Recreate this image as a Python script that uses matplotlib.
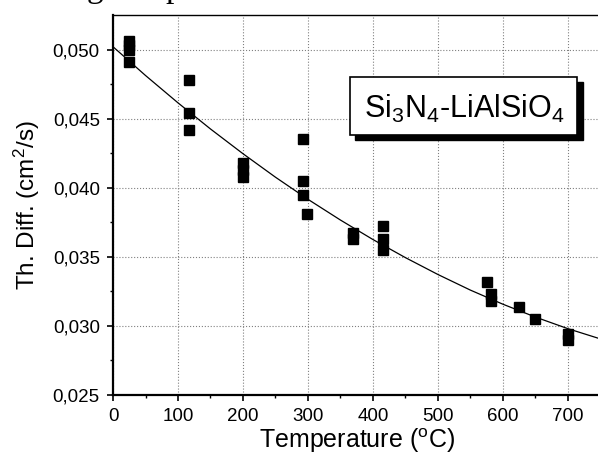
import numpy as np
import matplotlib.pyplot as plt
from matplotlib.patches import Rectangle

plt.rcParams['font.family'] = ['Liberation Sans', 'DejaVu Sans']
plt.rcParams['mathtext.fontset'] = 'custom'
plt.rcParams['mathtext.rm'] = 'Liberation Sans'
plt.rcParams['mathtext.it'] = 'Liberation Sans'

# measured points
temp = [25, 25, 25, 25,
        117, 117, 117,
        200, 200, 200,
        293, 293, 293, 299,
        370, 370,
        415, 415, 415,
        576, 582, 582, 625, 650,
        700, 700]
diff = [0.0506, 0.0503, 0.0500, 0.0491,
        0.0478, 0.0454, 0.0442,
        0.0418, 0.0413, 0.0408,
        0.0435, 0.0405, 0.0395, 0.0381,
        0.0367, 0.0363,
        0.0372, 0.0363, 0.0355,
        0.0332, 0.0323, 0.0318, 0.0314, 0.0305,
        0.0294, 0.0290]

# fitted curve
fit_t = [0, 50, 100, 150, 200, 250, 300, 350, 400, 450, 500, 550, 600, 650, 700, 750]
fit_d = [0.0502, 0.04812, 0.04614, 0.04425, 0.04246, 0.04076, 0.03916, 0.03766,
         0.03625, 0.03494, 0.03372, 0.03259, 0.03157, 0.03064, 0.02980, 0.02906]

xticks = [0, 100, 200, 300, 400, 500, 600, 700]
yticks = [0.025, 0.030, 0.035, 0.040, 0.045, 0.050]

fig = plt.figure(figsize=(5.98, 4.59), dpi=100)
ax = fig.add_axes([0.189, 0.1394, 0.815, 0.828])

ax.plot(fit_t, fit_d, '-', color='black', lw=0.9, zorder=3)
ax.plot(temp, diff, 's', color='black', ms=7, mec='black', zorder=4)

ax.set_xlim(0, 750)
ax.set_ylim(0.025, 0.0525)
ax.set_xticks(xticks)
ax.set_yticks(yticks)
ax.set_xticks(np.arange(50, 750, 100), minor=True)
ax.set_yticks([0.0275, 0.0325, 0.0375, 0.0425, 0.0475], minor=True)
ax.set_xticklabels([str(t) for t in xticks])
ax.set_yticklabels([f'{v:.3f}'.replace('.', ',') for v in yticks])
ax.tick_params(which='major', direction='out', length=4.5, width=1.2,
               labelsize=13.5, pad=5, colors='black')
ax.tick_params(which='minor', direction='out', length=2.5, width=1.0)
ax.grid(True, which='major', ls=':', color='gray', lw=0.8)

for s in ['left', 'bottom']:
    ax.spines[s].set_linewidth(1.6)
ax.spines['top'].set_linewidth(1.0)
ax.spines['right'].set_linewidth(1.6)

ax.set_xlabel('Temperature ($\\mathregular{^o}$C)', fontsize=18, labelpad=1)
ax.set_ylabel('Th. Diff. (cm$\\mathregular{^2}$/s)', fontsize=17.5, labelpad=8)

# label box with shadow
ax.add_patch(Rectangle((0.496, 0.671), 0.468, 0.153, transform=ax.transAxes,
                       facecolor='black', edgecolor='black', zorder=5))
ax.add_patch(Rectangle((0.486, 0.684), 0.467, 0.153, transform=ax.transAxes,
                       facecolor='white', edgecolor='black', lw=1.2, zorder=6))
ax.text(0.72, 0.752, 'Si$\\mathregular{_3}$N$\\mathregular{_4}$-LiAlSiO$\\mathregular{_4}$',
        transform=ax.transAxes, ha='center', va='center', fontsize=22, zorder=7)

# cropped text from the page above
fig.text(87 / 598, 1 + 3 / 459, 'g', family='Liberation Serif', fontsize=24, va='baseline')
fig.text(165 / 598, 1 + 3 / 459, 'p', family='Liberation Serif', fontsize=24, va='baseline')

fig.savefig('out.png', dpi=100)
